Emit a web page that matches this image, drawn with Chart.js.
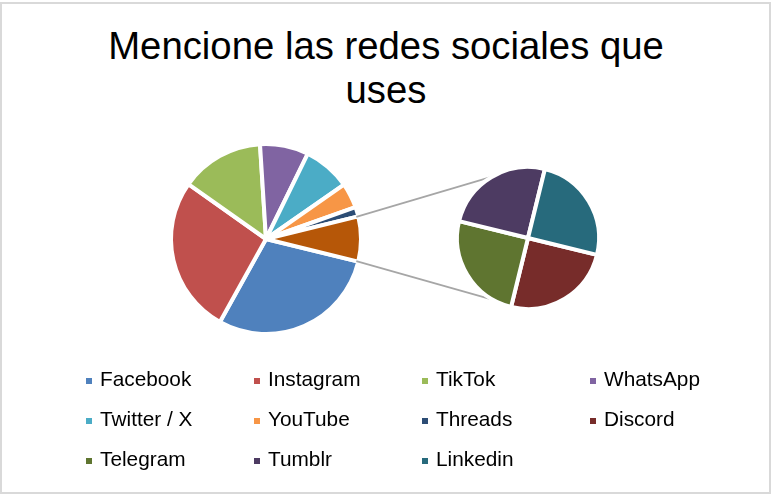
<!DOCTYPE html>
<html>
<head>
<meta charset="utf-8">
<script src="https://cdn.jsdelivr.net/npm/chart.js@4"></script>
<style>
  html, body { margin: 0; padding: 0; background: #fff; }
  #wrap { position: relative; width: 772px; height: 495px; overflow: hidden; font-family: "Liberation Sans", Arial, sans-serif; }
  #frame { position: absolute; left: 0; top: 2px; width: 771px; height: 492px; box-sizing: border-box; border: 2px solid #d9d9d9; }
  #title { position: absolute; left: 0; top: 24px; width: 772px; text-align: center; font-size: 38.3px; line-height: 43.5px; color: #000; }
  .cv { position: absolute; left: 0; top: 0; width: 772px; height: 495px; }
  #legend { position: absolute; left: 86px; top: 359px; display: grid; grid-template-columns: repeat(4, 168px); grid-auto-rows: 40px; }
  .item { font-size: 20.8px; line-height: 40px; color: #000; white-space: nowrap; }
  .sw { display: inline-block; width: 6px; height: 6px; margin-right: 8px; vertical-align: 2px; }
</style>
</head>
<body>
<div id="wrap">
  <div id="frame"></div>
  <div id="title">Mencione las redes sociales que<br>uses</div>
  <div class="cv"><canvas id="mainPie"></canvas></div>
  <div class="cv"><canvas id="subPie"></canvas></div>
  <div id="legend"></div>
</div>
<script>
const mainLabels = ['Facebook', 'Instagram', 'TikTok', 'WhatsApp', 'Twitter / X', 'YouTube', 'Threads'];
const mainValues = [29, 26.5, 14.1, 8.2, 8, 4.2, 1.6];
const mainColors = ['#4F81BD', '#C0504D', '#9BBB59', '#8064A2', '#4BACC6', '#F79646', '#2C4D75'];
const otherLabel = 'Otros';
const otherColor = '#B65708';
const subLabels = ['Discord', 'Telegram', 'Tumblr', 'Linkedin'];
const subValues = [1.9, 1.9, 1.9, 1.9];
const subColors = ['#772C2A', '#5F7530', '#4D3B62', '#276A7C'];

const otherSum = subValues.reduce((a, b) => a + b, 0);
const total = mainValues.reduce((a, b) => a + b, 0) + otherSum;
const otherDeg = otherSum / total * 360;
const startRot = 90 + otherDeg / 2;

// HTML legend
const legend = document.getElementById('legend');
mainLabels.concat(subLabels).forEach((lab, i) => {
  const col = i < mainLabels.length ? mainColors[i] : subColors[i - mainLabels.length];
  const d = document.createElement('div');
  d.className = 'item';
  d.innerHTML = '<span class="sw" style="background:' + col + '"></span>' + lab;
  legend.appendChild(d);
});

const common = {
  responsive: true,
  maintainAspectRatio: false,
  animation: false,
  plugins: { legend: { display: false }, tooltip: { enabled: false }, title: { display: false } },
  events: []
};

const mainChart = new Chart(document.getElementById('mainPie'), {
  type: 'pie',
  data: {
    labels: mainLabels.concat([otherLabel]),
    datasets: [{
      data: mainValues.concat([otherSum]),
      backgroundColor: mainColors.concat([otherColor]),
      borderColor: '#ffffff',
      borderWidth: 4
    }]
  },
  options: Object.assign({}, common, {
    rotation: startRot,
    radius: 95,
    layout: { padding: { left: 0, right: 240, top: 0, bottom: 17 } }
  })
});

const connector = {
  id: 'connector',
  beforeDatasetsDraw(chart) {
    const mArc = mainChart.getDatasetMeta(0).data[mainLabels.length];
    const sArc = chart.getDatasetMeta(0).data[0];
    if (!mArc || !sArc) return;
    const R = mArc.outerRadius - 2;
    const r = sArc.outerRadius - 2;
    const cx = sArc.x, cy = sArc.y;
    const ctx = chart.ctx;
    ctx.save();
    ctx.strokeStyle = '#A6A6A6';
    ctx.lineWidth = 1.7;
    [[mArc.startAngle, -1], [mArc.endAngle, 1]].forEach(([ang, sgn]) => {
      const px = mArc.x + R * Math.cos(ang);
      const py = mArc.y + R * Math.sin(ang);
      const d = Math.hypot(px - cx, py - cy);
      const th = Math.atan2(py - cy, px - cx);
      const a = Math.acos(r / d);
      const t1 = th + a, t2 = th - a;
      const y1 = cy + r * Math.sin(t1), y2 = cy + r * Math.sin(t2);
      const t = sgn < 0 ? (y1 < y2 ? t1 : t2) : (y1 > y2 ? t1 : t2);
      ctx.beginPath();
      ctx.moveTo(px, py);
      ctx.lineTo(cx + r * Math.cos(t), cy + r * Math.sin(t));
      ctx.stroke();
    });
    ctx.restore();
  }
};

const subChart = new Chart(document.getElementById('subPie'), {
  type: 'pie',
  data: {
    labels: subLabels,
    datasets: [{
      data: subValues,
      backgroundColor: subColors,
      borderColor: '#ffffff',
      borderWidth: 4
    }]
  },
  options: Object.assign({}, common, {
    rotation: startRot,
    radius: 71,
    layout: { padding: { left: 284, right: 0, top: 0, bottom: 19 } }
  }),
  plugins: [connector]
});
</script>
</body>
</html>
